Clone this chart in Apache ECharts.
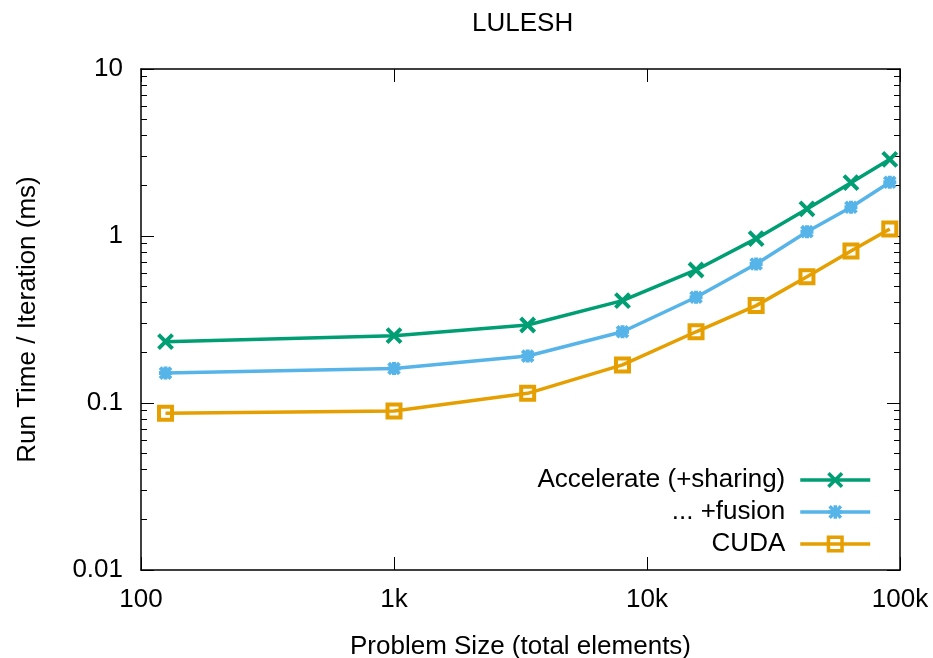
<!DOCTYPE html>
<html>
<head>
<meta charset="utf-8">
<script src="https://cdn.jsdelivr.net/npm/echarts@6/dist/echarts.min.js"></script>
<style>
html,body{margin:0;padding:0;background:#fff;}
#c{width:933px;height:658px;}
</style>
</head>
<body>
<div id="c"></div>
<script>
// ---- data ----
const problemSizes = [125, 1000, 3375, 8000, 15625, 27000, 42875, 64000, 91125];
const accelerateSharing = [0.233, 0.253, 0.293, 0.410, 0.626, 0.964, 1.452, 2.085, 2.879];
const accelerateFusion = [0.151, 0.161, 0.191, 0.267, 0.430, 0.680, 1.061, 1.486, 2.098];
const cudaTimes = [0.0868, 0.0896, 0.1143, 0.169, 0.267, 0.383, 0.570, 0.813, 1.101];
const seriesNames = ['Accelerate (+sharing)', '... +fusion', 'CUDA'];
const xTickValues = [100, 1000, 10000, 100000];
const xTickLabels = ['100', '1k', '10k', '100k'];
const yTickValues = [0.01, 0.1, 1, 10];
const yTickLabels = ['0.01', '0.1', '1', '10'];

const FONT = 'Liberation Sans';
const FS = 26;

function lookup(values, labels) {
  return function (v) {
    for (let i = 0; i < values.length; i++) {
      if (Math.abs(Math.log10(v) - Math.log10(values[i])) < 1e-6) return labels[i];
    }
    return '';
  };
}

function pairs(ys) { return problemSizes.map((x, i) => [x, ys[i]]); }

const X_PATH = 'path://M0,0L10,10M10,0L0,10';
const STAR_PATH = 'path://M0,0L10,10M10,0L0,10M5,-1L5,11M-1,5L11,5';
const SQ_PATH = 'path://M0,0L10,0L10,10L0,10Z';

const axisLine = { show: true, lineStyle: { color: '#000', width: 1.5 } };
const majorTick = { show: true, inside: true, length: 13, lineStyle: { color: '#000', width: 1 } };

function xAxisCfg(pos, showLabel) {
  return {
    type: 'log', logBase: 10, min: 100, max: 100000, position: pos,
    axisLine: axisLine, axisTick: majorTick,
    axisLabel: { show: showLabel, margin: 17, fontSize: FS, fontFamily: FONT, color: '#000',
      formatter: lookup(xTickValues, xTickLabels) },
    splitLine: { show: false }, minorTick: { show: false }, minorSplitLine: { show: false },
    name: showLabel ? 'Problem Size (total elements)' : '',
    nameLocation: 'middle', nameGap: 64,
    nameTextStyle: { fontSize: FS, fontFamily: FONT, color: '#000' }
  };
}
function yAxisCfg(pos, showLabel) {
  return {
    type: 'log', logBase: 10, min: 0.01, max: 10, position: pos,
    axisLine: axisLine, axisTick: majorTick,
    minorTick: { show: true, splitNumber: 9, length: 6, lineStyle: { color: '#000', width: 1 } },
    axisLabel: { show: showLabel, margin: 18, fontSize: FS, fontFamily: FONT, color: '#000',
      formatter: lookup(yTickValues, yTickLabels) },
    splitLine: { show: false }, minorSplitLine: { show: false },
    name: showLabel ? 'Run Time / Iteration (ms)' : '',
    nameLocation: 'middle', nameRotate: 90, nameGap: 100,
    nameTextStyle: { fontSize: FS, fontFamily: FONT, color: '#000' }
  };
}

function mkSeries(name, ys, color, symbol, size, fill) {
  return {
    name: name, type: 'line', data: pairs(ys),
    xAxisIndex: 0, yAxisIndex: 0,
    symbol: symbol, symbolSize: size, showAllSymbol: true,
    lineStyle: { color: color, width: 3.5 },
    itemStyle: { color: fill, borderColor: color, borderWidth: 4 },
    emphasis: { disabled: true },
    z: 3
  };
}

const chart = echarts.init(document.getElementById('c'), null, { renderer: 'canvas' });
chart.setOption({
  animation: false,
  backgroundColor: '#fff',
  title: { text: 'LULESH', left: 467, top: 6,
    textStyle: { fontSize: FS, fontWeight: 'normal', fontFamily: FONT, color: '#000' } },
  grid: { left: 141, top: 69, right: 33, bottom: 88, containLabel: false, outerBoundsMode: 'none' },
  xAxis: [xAxisCfg('bottom', true), xAxisCfg('top', false)],
  yAxis: [yAxisCfg('left', true), yAxisCfg('right', false)],
  legend: {
    orient: 'vertical', right: 61, top: 467, align: 'right', padding: 0,
    itemWidth: 70, itemHeight: 17, itemGap: 6,
    itemStyle: { borderWidth: 3.5 },
    lineStyle: { width: 3.5 },
    textStyle: { fontSize: FS, fontFamily: FONT, color: '#000', padding: [0, 10, 0, 0] },
    data: seriesNames
  },
  series: [
    mkSeries(seriesNames[0], accelerateSharing, '#009e73', X_PATH, 14, '#009e73'),
    mkSeries(seriesNames[1], accelerateFusion, '#56b4e9', STAR_PATH, 13, '#56b4e9'),
    mkSeries(seriesNames[2], cudaTimes, '#e69f00', SQ_PATH, 13, 'rgba(0,0,0,0)')
  ]
});
</script>
</body>
</html>
